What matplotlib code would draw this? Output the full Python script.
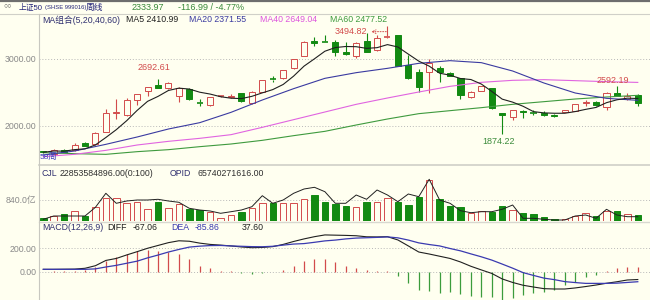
import numpy as np
import pandas as pd
import matplotlib
matplotlib.use("Agg")
import matplotlib.pyplot as plt
from matplotlib.patches import Rectangle
from matplotlib.lines import Line2D

plt.rcParams['font.family'] = ['Liberation Sans', 'Noto Sans CJK SC', 'DejaVu Sans']
plt.rcParams['font.size'] = 6.3

# --- weekly candles (58 weeks) ---
opens = [1615, 1580, 1640, 1635, 1745, 1725, 1910, 2185, 2160, 2385,
         2525, 2610, 2560, 2445, 2550, 2350, 2310, 2440, 2430, 2485,
         2335, 2510, 2700, 2710, 2860, 3045, 3270, 3265, 3260, 3110,
         3045, 3275, 3135, 3330, 3360, 2910, 2810, 2810, 2860, 2795,
         2710, 2425, 2525, 2560, 2185, 2135, 2225, 2200, 2185, 2160,
         2210, 2225, 2335, 2360, 2275, 2495, 2400, 2460]
highs = [1625, 1650, 1650, 1740, 1760, 1900, 2245, 2395, 2410, 2470,
         2575, 2692.61, 2660, 2585, 2560, 2400, 2430, 2450, 2475, 2490,
         2515, 2690, 2740, 2840, 3000, 3265, 3335, 3360, 3285, 3250,
         3250, 3395, 3360, 3494.82, 3365, 3060, 2855, 2995, 2900, 2800,
         2715, 2515, 2600, 2570, 2190, 2240, 2240, 2235, 2220, 2170,
         2240, 2330, 2385, 2370, 2505, 2592.19, 2490, 2470]
lows = [1590, 1570, 1600, 1625, 1690, 1715, 1900, 2095, 2150, 2310,
        2445, 2560, 2545, 2360, 2390, 2300, 2300, 2430, 2420, 2360,
        2320, 2500, 2660, 2700, 2850, 3040, 3200, 3255, 3040, 3065,
        3020, 3100, 3120, 3310, 2890, 2700, 2510, 2495, 2660, 2740,
        2395, 2420, 2520, 2255, 1874.22, 2080, 2120, 2160, 2150, 2130,
        2205, 2215, 2300, 2300, 2240, 2440, 2390, 2300]
closes = [1600, 1640, 1612, 1710, 1700, 1895, 2195, 2200, 2385, 2470,
          2575, 2565, 2645, 2560, 2400, 2340, 2425, 2445, 2450, 2370,
          2510, 2685, 2690, 2835, 2995, 3260, 3235, 3258, 3110, 3075,
          3245, 3110, 3310, 3340, 2895, 2710, 2585, 2935, 2810, 2745,
          2460, 2510, 2595, 2260, 2165, 2235, 2200, 2193, 2165, 2138,
          2235, 2325, 2360, 2310, 2495, 2450, 2448, 2333.97]

# long moving averages, read every 3 weeks
ma_idx = [0, 3, 6, 9, 12, 15, 18, 21, 24, 27, 30, 33, 36, 39, 42, 45, 48, 51, 54, 57]
ma20 = [1560, 1620, 1720, 1830, 1950, 2045, 2200, 2385, 2555, 2710,
        2795, 2860, 2935, 2975, 2945, 2820, 2640, 2490, 2410, 2380]
ma40 = [1535, 1570, 1630, 1710, 1765, 1810, 1865, 1975, 2090, 2205,
        2320, 2415, 2505, 2590, 2650, 2680, 2690, 2675, 2660, 2649]
ma60 = [1595, 1580, 1570, 1610, 1640, 1685, 1725, 1780, 1850, 1915,
        2010, 2100, 2180, 2225, 2270, 2320, 2360, 2400, 2430, 2455]

# volume (亿)
volume = [132, 212, 268, 412, 212, 548, 908, 908, 732, 748,
          468, 772, 508, 680, 468, 440, 372, 132, 240, 372,
          508, 708, 708, 708, 708, 880, 1040, 772, 680, 600,
          572, 772, 772, 908, 748, 640, 972, 1640, 868, 600,
          548, 308, 412, 372, 600, 440, 308, 268, 172, 68,
          68, 212, 308, 200, 400, 400, 268, 228.5]
vol_line = [68, 200, 200, 200, 200, 548, 1108, 708, 800, 840,
            840, 868, 800, 748, 508, 440, 400, 308, 372, 440,
            572, 1012, 708, 840, 1108, 1280, 1348, 1172, 708, 708,
            1040, 868, 1240, 1040, 772, 1080, 972, 1668, 840, 708,
            412, 332, 372, 372, 468, 640, 108, 108, 68, 40,
            40, 200, 240, 108, 468, 240, 172, 172]

# MACD(12,26,9)
diff = [20, 20, 21, 22, 29, 51, 96, 113, 143, 171,
        200, 224, 248, 264, 260, 244, 233, 227, 220, 211,
        205, 207, 214, 233, 258, 280, 299, 314, 312, 310,
        307, 298, 297, 299, 271, 220, 168, 151, 132, 113,
        83, 46, 15, -15, -62, -92, -116, -131, -145, -148,
        -148, -139, -127, -114, -99, -86, -71, -67.06]
dea = [20, 20, 20, 20, 20, 24, 40, 54, 72, 90,
       118, 142, 168, 190, 210, 218, 223, 224, 220, 217,
       214, 213, 217, 227, 236, 240, 251, 263, 270, 280,
       287, 290, 293, 297, 289, 270, 246, 232, 220, 198,
       178, 152, 127, 99, 65, 30, -8, -32, -55, -68,
       -85, -93, -100, -100, -100, -98, -92, -85.86]
macd_bar = [0, 4, 5, 8, 14, 43, 94, 122, 148, 177,
            186, 180, 171, 151, 105, 51, 28, 9, 2, -14,
            -20, -9, -3, 14, 49, 91, 109, 107, 86, 49,
            28, 15, 10, 8, -37, -100, -156, -162, -180, -171,
            -191, -208, -220, -220, -242, -228, -199, -186, -171, -156,
            -114, -86, -49, -28, 6, 28, 43, 37.6]

BG = '#FFFFF0'
RED = '#D24B4B'
GREEN = '#128A12'
GRID = '#B8B8B8'
W, H = 650, 300

n = len(closes)
x = np.arange(n)
ma5 = pd.Series(closes).rolling(5, min_periods=1).mean()
up = [c >= o for o, c in zip(opens, closes)]

fig = plt.figure(figsize=(6.5, 3), dpi=100, facecolor=BG)


def frac(x0, y0, x1, y1):
    return [x0 / W, 1 - y1 / H, (x1 - x0) / W, (y1 - y0) / H]


def ptext(px, py, s, **kw):
    fig.text(px / W, 1 - py / H, s, va='center', **kw)


def style(a, ticks, labels, ylim):
    a.set_facecolor(BG)
    for s in a.spines.values():
        s.set_visible(False)
    a.set_xlim(-0.41, 58.17)
    a.set_ylim(*ylim)
    a.set_xticks([])
    a.set_yticks(ticks)
    a.set_yticklabels(labels)
    a.tick_params(axis='y', length=0, pad=2, labelsize=6.3, labelcolor='#8A8A8A')
    a.grid(axis='y', linestyle=(0, (1, 2)), color=GRID, lw=0.7)
    a.set_axisbelow(True)


ax = fig.add_axes(frac(39, 14, 650, 163))
axv = fig.add_axes(frac(39, 165, 650, 221))
axm = fig.add_axes(frac(39, 221, 650, 300))
style(ax, [2000, 3000], ['2000.00', '3000.00'], (1440, 3675))
style(axv, [840], ['840.0亿'], (0, 2240))
style(axm, [0, 200], ['0.00', '200.00'], (-242, 433))

# --- candles ---
bw = 0.58
for i in range(n):
    o, h, l, c = opens[i], highs[i], lows[i], closes[i]
    col = RED if up[i] else GREEN
    lo_b, hi_b = min(o, c), max(o, c)
    ax.vlines(i, l, lo_b, color=col, lw=0.8, zorder=2)
    ax.vlines(i, hi_b, h, color=col, lw=0.8, zorder=2)
    if hi_b - lo_b < 14:
        ax.hlines((o + c) / 2, i - bw / 2, i + bw / 2, color=col, lw=1.2, zorder=3)
    else:
        ax.add_patch(Rectangle((i - bw / 2, lo_b), bw, hi_b - lo_b,
                               facecolor=BG if up[i] else col, edgecolor=col,
                               lw=0.7, zorder=3))

ax.plot(ma_idx, ma60, color='#3E9A3E', lw=0.8, zorder=4)
ax.plot(ma_idx, ma40, color='#E064E0', lw=0.8, zorder=4)
ax.plot(ma_idx, ma20, color='#3A3AA0', lw=0.8, zorder=4)
ax.plot(x, ma5, color='#202020', lw=0.8, zorder=5)

# high / low marks
ax.annotate('2692.61', xy=(11, 2692.61), xytext=(-4, 7), textcoords='offset pixels',
            ha='center', va='bottom', color=RED, fontsize=6.5)
ax.annotate('2592.19', xy=(55, 2592.19), xytext=(-4, 1), textcoords='offset pixels',
            ha='center', va='bottom', color=RED, fontsize=6.5, zorder=6)
ax.annotate('1874.22', xy=(44, 1874.22), xytext=(-4, -3), textcoords='offset pixels',
            ha='center', va='top', color='#3C8C3C', fontsize=6.5)
ax.annotate('3494.82', xy=(32.95, 3410), xytext=(31.05, 3410), ha='right', va='center',
            color=RED, fontsize=6.5,
            arrowprops=dict(arrowstyle='<-', linestyle=':', color=RED, lw=0.7,
                            shrinkA=1, shrinkB=0))

# --- volume ---
axv.bar(x, volume, width=0.62, color=[BG if u else GREEN for u in up],
        edgecolor=[RED if u else GREEN for u in up], lw=0.7, zorder=2)
axv.plot(x, vol_line, color='#202020', lw=0.7, zorder=3)

# --- MACD ---
axm.vlines(x, 0, macd_bar, colors=[RED if b > 0 else '#3C9C3C' for b in macd_bar],
           lw=0.9, zorder=2)
axm.plot(x, diff, color='#202020', lw=0.8, zorder=3)
axm.plot(x, dea, color='#3A3AB0', lw=0.9, zorder=3)

# --- frame lines ---
for ln in [Line2D([0, 1], [1 - 0.8 / H] * 2, color='#6E6E6E', lw=1.6),
           Line2D([0, 1], [1 - 14 / H] * 2, color='#D0D0C8', lw=0.8),
           Line2D([39 / W, 1], [1 - 165 / H] * 2, color='#D0D0C8', lw=1.2),
           Line2D([39 / W, 1], [1 - 222 / H] * 2, color='#D8D8D0', lw=1.0),
           Line2D([39 / W] * 2, [0, 1 - 14 / H], color='#C8C8C0', lw=0.8)]:
    fig.add_artist(ln)

# --- texts ---
NAVY = '#26267A'
ptext(3, 7, '○○', fontsize=5, color='#505050')
ptext(19, 7, '上证50', fontsize=5.6, color=NAVY)
ptext(45, 7.5, '(SHSE 999016)', fontsize=4.2, color=NAVY)
ptext(86, 7, '周线', fontsize=6.3, color=NAVY)
ptext(132, 7, '2333.97', fontsize=6.5, color='#3A8A3A')
ptext(178, 7, '-116.99 / -4.77%', fontsize=6.5, color='#3A8A3A')

ptext(42, 20, 'MA组合(5,20,40,60)', color='#303070')
ptext(126, 20, 'MA5 2410.99', color='#202020')
ptext(189, 20, 'MA20 2371.55', color='#3A3AA0')
ptext(260, 20, 'MA40 2649.04', color='#DD55DD')
ptext(330, 20, 'MA60 2477.52', color='#3E9A3E')
ptext(40, 157, '58周', fontsize=6, color='#4040C0')

ptext(42, 174, 'CJL', color='#303070')
ptext(60, 174, '22853584896.00(0:100)', color='#303030')
ptext(170, 174, 'OPID', color='#303070')
ptext(197, 174, '65740271616.00', color='#303030')

ptext(42, 227, 'MACD(12,26,9)', color='#303070')
ptext(107, 227, 'DIFF', color='#202020')
ptext(133, 227, '-67.06', color='#202020')
ptext(171, 227, 'DEA', color='#3A3AB0')
ptext(195, 227, '-85.86', color='#3A3AB0')
ptext(242, 227, '37.60', color='#202020')

fig.savefig('out.png', dpi=100, facecolor=BG)
